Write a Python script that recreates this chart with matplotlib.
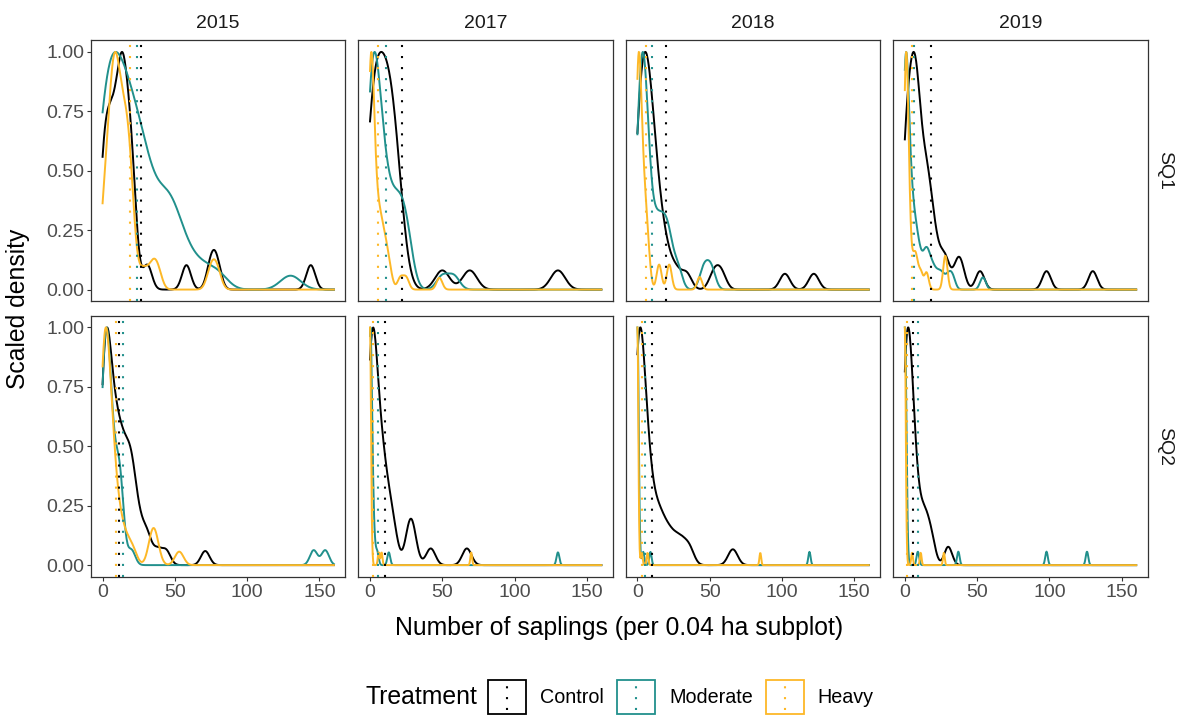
import numpy as np
import matplotlib
matplotlib.use("Agg")
import matplotlib.pyplot as plt
from matplotlib.patches import Rectangle
from matplotlib.lines import Line2D
from matplotlib.legend_handler import HandlerBase

plt.rcParams["font.family"] = ["Liberation Sans", "DejaVu Sans"]

years = ["2015", "2017", "2018", "2019"]
quadrats = ["SQ1", "SQ2"]
treatments = ["Control", "Moderate", "Heavy"]
colors = {"Control": "#000000", "Moderate": "#21908C", "Heavy": "#FDB827"}

# Saplings per 0.04 ha subplot, written as {count: number of subplots}
sq1_2015_control = {0: 3, 2: 1, 3: 1, 4: 1, 5: 1, 6: 1, 7: 1, 8: 1, 9: 1, 10: 1, 11: 1, 12: 1,
                    13: 2, 14: 2, 15: 1, 16: 1, 17: 1, 18: 1, 19: 1, 20: 1, 21: 1, 22: 1, 31: 1,
                    58: 1, 75: 1, 79: 1, 144: 1}
sq1_2015_moderate = {0: 5, 2: 2, 4: 2, 6: 2, 8: 2, 10: 2, 12: 2, 14: 2, 16: 2, 18: 2, 20: 1, 22: 2,
                     24: 1, 26: 2, 28: 1, 30: 2, 33: 1, 36: 1, 38: 1, 41: 1, 44: 1, 45: 1, 47: 1,
                     50: 1, 52: 1, 56: 1, 62: 1, 70: 1, 80: 1, 130: 1}
sq1_2015_heavy = {0: 2, 2: 1, 3: 1, 4: 1, 5: 1, 6: 2, 7: 2, 8: 2, 9: 2, 10: 2, 11: 1, 12: 2,
                  13: 1, 14: 1, 15: 2, 16: 1, 17: 1, 18: 2, 19: 1, 20: 1, 21: 1, 28: 1, 34: 1,
                  38: 1, 75: 1, 79: 1}

sq1_2017_control = {0: 3, 1: 1, 2: 1, 3: 1, 4: 1, 5: 1, 6: 1, 7: 1, 8: 1, 9: 1, 10: 1, 11: 1, 12: 1,
                    13: 1, 14: 1, 15: 1, 16: 1, 17: 1, 18: 1, 20: 1, 22: 1, 50: 1, 69: 1, 130: 1}
sq1_2017_moderate = {0: 5, 1: 3, 2: 3, 3: 2, 4: 1, 5: 2, 6: 2, 7: 1, 8: 2, 9: 1, 10: 1, 12: 2,
                     14: 1, 16: 2, 18: 1, 20: 2, 22: 1, 24: 2, 26: 1, 28: 1, 50: 1, 58: 1}
sq1_2017_heavy = {0: 10, 1: 6, 2: 4, 3: 2, 4: 1, 5: 2, 6: 1, 7: 2, 8: 1, 9: 1, 10: 1, 11: 1, 12: 1,
                  14: 1, 21: 1, 25: 1, 48: 1}

sq1_2018_control = {0: 4, 1: 1, 2: 1, 3: 2, 4: 2, 5: 2, 6: 2, 7: 2, 8: 2, 9: 1, 10: 2, 11: 1, 12: 1,
                    13: 1, 14: 1, 15: 1, 17: 1, 19: 1, 22: 1, 27: 1, 34: 1, 53: 1, 58: 1, 102: 1,
                    122: 1}
sq1_2018_moderate = {0: 2, 1: 1, 2: 2, 3: 2, 4: 2, 5: 2, 6: 2, 7: 1, 9: 1, 11: 1, 13: 1, 15: 1,
                     17: 1, 19: 1, 21: 1, 23: 1, 28: 1, 46: 1, 51: 1}
sq1_2018_heavy = {0: 9, 1: 6, 2: 4, 3: 3, 4: 2, 5: 2, 6: 2, 7: 1, 8: 1, 15: 2, 22: 2, 43: 1}

sq1_2019_control = {0: 4, 1: 1, 2: 1, 3: 1, 4: 2, 5: 2, 6: 2, 7: 2, 8: 2, 9: 2, 10: 1, 11: 1, 12: 1,
                    13: 1, 14: 1, 15: 1, 16: 1, 17: 1, 18: 1, 20: 1, 22: 1, 26: 1, 29: 1, 36: 1,
                    39: 1, 52: 1, 98: 1, 130: 1}
sq1_2019_moderate = {0: 10, 1: 6, 2: 3, 3: 2, 4: 2, 5: 1, 6: 2, 7: 1, 8: 1, 9: 1, 10: 1, 12: 1,
                     14: 1, 15: 1, 16: 1, 18: 1, 20: 1, 23: 1, 26: 1, 30: 1, 33: 1, 54: 1}
sq1_2019_heavy = {0: 4, 1: 8, 2: 3, 3: 1, 5: 1, 7: 1, 8: 1, 11: 1, 15: 1, 28: 2}

sq2_2015_control = {0: 4, 1: 3, 2: 3, 3: 3, 4: 2, 5: 2, 6: 2, 7: 2, 8: 1, 9: 2, 10: 1, 11: 2,
                    12: 1, 13: 1, 14: 2, 15: 1, 16: 1, 17: 1, 18: 1, 19: 2, 20: 1, 21: 1, 22: 1,
                    23: 1, 25: 1, 27: 1, 30: 1, 32: 1, 38: 1, 44: 1, 71: 1}
sq2_2015_moderate = {0: 4, 1: 3, 2: 3, 3: 3, 4: 3, 5: 2, 6: 2, 7: 1, 8: 1, 9: 1, 10: 1, 11: 1,
                     12: 2, 13: 2, 20: 1, 146: 1, 154: 1}
sq2_2015_heavy = {0: 6, 1: 3, 2: 3, 3: 3, 4: 2, 5: 2, 6: 2, 7: 1, 8: 1, 9: 1, 10: 1, 12: 1, 14: 1,
                  17: 1, 21: 1, 34: 1, 35: 1, 37: 1, 53: 1}

sq2_2017_control = {0: 5, 1: 3, 2: 2, 3: 2, 4: 2, 5: 1, 6: 1, 7: 1, 8: 1, 9: 1, 10: 1, 11: 1, 13: 1,
                    15: 1, 17: 1, 27: 1, 28: 1, 30: 1, 42: 1, 67: 1}
sq2_2017_moderate = {0: 14, 1: 6, 2: 2, 3: 1, 5: 1, 13: 1, 130: 1}
sq2_2017_heavy = {0: 18, 1: 2, 6: 1, 8: 1, 70: 1}

sq2_2018_control = {0: 6, 1: 3, 2: 2, 3: 2, 4: 1, 5: 2, 6: 1, 7: 1, 8: 1, 9: 1, 11: 1, 13: 1, 15: 1,
                    17: 1, 20: 1, 23: 1, 27: 1, 31: 1, 36: 1, 66: 1}
sq2_2018_moderate = {0: 17, 1: 2, 4: 1, 9: 1, 119: 1}
sq2_2018_heavy = {0: 19, 1: 1, 3: 1, 7: 1, 85: 1}

sq2_2019_control = {0: 4, 1: 3, 2: 2, 3: 2, 4: 2, 5: 2, 6: 1, 7: 1, 8: 1, 10: 1, 12: 1, 14: 1,
                    16: 1, 19: 1, 30: 1}
sq2_2019_moderate = {0: 16, 1: 3, 9: 1, 37: 1, 98: 1, 126: 1}
sq2_2019_heavy = {0: 19, 1: 1, 5: 1, 11: 1, 27: 1}

counts = {
    ("SQ1", "2015"): [sq1_2015_control, sq1_2015_moderate, sq1_2015_heavy],
    ("SQ1", "2017"): [sq1_2017_control, sq1_2017_moderate, sq1_2017_heavy],
    ("SQ1", "2018"): [sq1_2018_control, sq1_2018_moderate, sq1_2018_heavy],
    ("SQ1", "2019"): [sq1_2019_control, sq1_2019_moderate, sq1_2019_heavy],
    ("SQ2", "2015"): [sq2_2015_control, sq2_2015_moderate, sq2_2015_heavy],
    ("SQ2", "2017"): [sq2_2017_control, sq2_2017_moderate, sq2_2017_heavy],
    ("SQ2", "2018"): [sq2_2018_control, sq2_2018_moderate, sq2_2018_heavy],
    ("SQ2", "2019"): [sq2_2019_control, sq2_2019_moderate, sq2_2019_heavy],
}

# Kernel bandwidths (Control, Moderate, Heavy) for each year
bandwidth_sq1 = {"2015": [3.1, 7.0, 3.0], "2017": [5.0, 4.0, 2.0],
                 "2018": [3.5, 3.0, 1.7], "2019": [3.0, 2.0, 1.5]}
bandwidth_sq2 = {"2015": [3.0, 2.6, 3.0], "2017": [3.2, 1.0, 0.6],
                 "2018": [3.3, 0.8, 0.6], "2019": [2.7, 0.9, 0.6]}

# Treatment means shown as dotted reference lines (Control, Moderate, Heavy)
means_sq1 = {"2015": [26.5, 24.0, 19.3], "2017": [21.9, 10.9, 5.8],
             "2018": [20.0, 9.8, 5.6], "2019": [18.0, 6.5, 4.9]}
means_sq2 = {"2015": [11.3, 14.2, 9.5], "2017": [10.5, 5.8, 2.1],
             "2018": [9.8, 5.0, 3.5], "2019": [5.8, 8.8, 1.2]}

x_max = 160
x_ticks = [0, 50, 100, 150]
y_ticks = [0.0, 0.25, 0.5, 0.75, 1.0]
y_ticklabels = ["0.00", "0.25", "0.50", "0.75", "1.00"]


def scaled_density(obs, bw, grid):
    vals = np.array(list(obs.keys()), dtype=float)
    wts = np.array(list(obs.values()), dtype=float)
    z = (grid[:, None] - vals[None, :]) / bw
    dens = (np.exp(-0.5 * z ** 2) * wts[None, :]).sum(axis=1)
    return dens / dens.max()


class KeyHandler(HandlerBase):
    def create_artists(self, legend, orig_handle, xdescent, ydescent, width, height, fontsize, trans):
        c = orig_handle.get_color()
        box = Rectangle((-xdescent, -ydescent), width, height, facecolor="white",
                        edgecolor=c, lw=1.3, transform=trans)
        xm = -xdescent + width / 2
        vl = Line2D([xm, xm], [-ydescent + 0.12 * height, -ydescent + 0.95 * height], color=c,
                    lw=1.5, linestyle=(0, (1.0, 4.2)), transform=trans)
        return [box, vl]


fig, axes = plt.subplots(2, 4, figsize=(11.82, 7.15), dpi=100, sharex=True, sharey=True)
fig.subplots_adjust(left=0.077, right=0.971, top=0.944, bottom=0.193, wspace=0.051, hspace=0.054)

grid = np.linspace(0, x_max, 512)

for r, q in enumerate(quadrats):
    bws = bandwidth_sq1 if q == "SQ1" else bandwidth_sq2
    means = means_sq1 if q == "SQ1" else means_sq2
    for c, yr in enumerate(years):
        ax = axes[r, c]
        for k, t in enumerate(treatments):
            d = scaled_density(counts[(q, yr)][k], bws[yr][k], grid)
            ax.plot(grid, d, color=colors[t], lw=1.4, zorder=2 + k)
        for k, t in enumerate(treatments):
            ax.axvline(means[yr][k], color=colors[t], lw=1.5, linestyle=(0, (1.0, 4.3)), zorder=6)
        ax.set_xlim(-0.05 * x_max, 1.05 * x_max)
        ax.set_ylim(-0.05, 1.05)
        ax.set_xticks(x_ticks)
        ax.set_yticks(y_ticks)
        ax.set_yticklabels(y_ticklabels)
        for s in ax.spines.values():
            s.set_color("#333333")
            s.set_linewidth(0.9)
        ax.tick_params(length=3.0, width=0.8, color="#333333", labelcolor="#4D4D4D",
                       labelsize=14, pad=2)
        if c > 0:
            ax.tick_params(axis="y", left=False, labelleft=False)
        if r == 0:
            ax.tick_params(axis="x", bottom=False, labelbottom=False)
            ax.set_title(yr, fontsize=14, color="#1A1A1A", pad=9)
        if c == 3:
            ax.text(1.065, 0.5, q, transform=ax.transAxes, rotation=-90, fontsize=14,
                    color="#1A1A1A", ha="center", va="center")

fig.text(0.015, (0.944 + 0.193) / 2, "Scaled density", rotation=90, fontsize=17.8,
         ha="center", va="center")
fig.text((0.077 + 0.971) / 2, 0.122, "Number of saplings (per 0.04 ha subplot)", fontsize=17.8,
         ha="center", va="center")

handles = [Line2D([], [], color=colors[t]) for t in treatments]
fig.text(477 / 1182, 1 - 697 / 715, "Treatment", fontsize=17.8, ha="right", va="center")
fig.legend(handles, treatments, handler_map={Line2D: KeyHandler()}, loc="center left",
           bbox_to_anchor=(488 / 1182, 1 - 697 / 715), ncol=3, frameon=False, fontsize=14.2,
           handlelength=1.93, handleheight=2.28, handletextpad=0.71, columnspacing=0.66,
           borderpad=0, borderaxespad=0)

fig.savefig("out.png", dpi=100)
